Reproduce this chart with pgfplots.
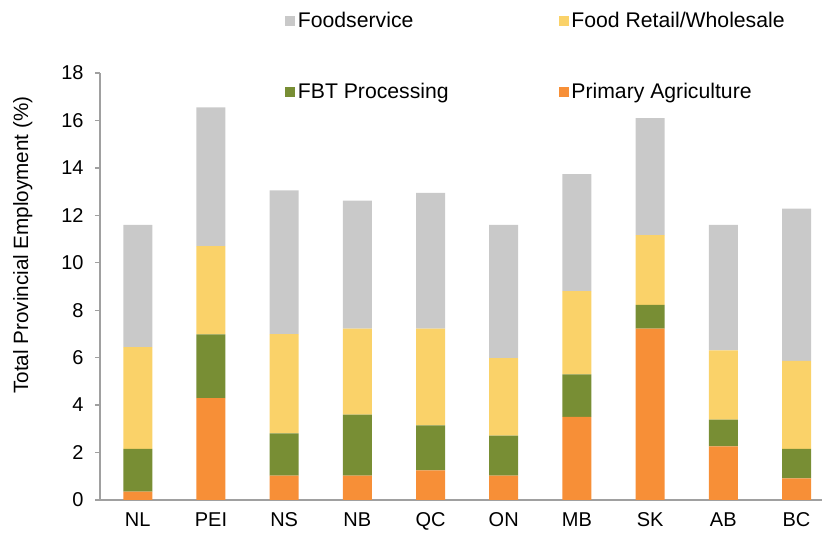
\documentclass[border=0pt]{standalone}
\usepackage{pgfplots}
\pgfplotsset{compat=1.18}
\usepackage{pgfplotstable}
\usepackage{fontspec}
\setmainfont{Liberation Sans}
\definecolor{cFS}{RGB}{201,201,201}
\definecolor{cFR}{RGB}{250,210,105}
\definecolor{cFBT}{RGB}{120,142,52}
\definecolor{cPA}{RGB}{247,143,55}
\definecolor{axgray}{RGB}{160,160,160}
\pgfplotstableread{
x PA FBT FR FS
0 0.35 1.80 4.29 5.16
1 4.29 2.69 3.72 5.85
2 1.03 1.78 4.18 6.06
3 1.03 2.57 3.62 5.40
4 1.25 1.90 4.07 5.73
5 1.03 1.68 3.27 5.62
6 3.50 1.80 3.50 4.94
7 7.22 1.01 2.94 4.93
8 2.26 1.13 2.92 5.29
9 0.91 1.24 3.71 6.42
}\datatable
\begin{document}
\begin{tikzpicture}
\begin{axis}[
 scale only axis, width=541.5pt, height=320.25pt,
 xmin=-0.516, xmax=9.348, ymin=0, ymax=18,
 ybar stacked, bar width=21.75pt,
 axis x line=bottom, axis y line=left,
 axis line style={-, axgray, line width=1.2pt},
 xtick={0,...,9}, xticklabels={NL,PEI,NS,NB,QC,ON,MB,SK,AB,BC},
 x tick style={draw=none},
 ytick={0,2,...,18},
 y tick style={axgray, line width=1pt},
 tick align=outside, major tick length=3.75pt,
 ticklabel style={font=\fontsize{15}{18}\selectfont},
 yticklabel style={xshift=-5pt},
 xticklabel style={yshift=-2pt},
 /pgf/number format/assume math mode=true,
 ylabel={Total Provincial Employment (\%)},
 every axis y label/.style={at={(axis description cs:0,0.597)}, xshift=-58pt, rotate=90, anchor=center, font=\fontsize{15.5}{18}\selectfont},
 legend columns=2, reverse legend,
 legend style={draw=none, fill=none, font=\fontsize{15.9}{18}\selectfont, at={(axis description cs:0,1)}, anchor=north west, xshift=138.75pt, yshift=45.75pt, inner sep=0pt, row sep=40.5pt, nodes={inner xsep=2pt, inner ysep=0pt}, /tikz/every even column/.append style={column sep=80.5pt}},
 legend cell align=left,
 legend image code/.code={\fill[#1] (0pt,-3.75pt) rectangle (7.5pt,3.75pt);},
]
\addplot[fill=cPA, draw=none] table[x=x, y=PA] {\datatable};
\addlegendentry{Primary Agriculture}
\addplot[fill=cFBT, draw=none] table[x=x, y=FBT] {\datatable};
\addlegendentry{FBT Processing}
\addplot[fill=cFR, draw=none] table[x=x, y=FR] {\datatable};
\addlegendentry{Food Retail/Wholesale}
\addplot[fill=cFS, draw=none] table[x=x, y=FS] {\datatable};
\addlegendentry{Foodservice}
\end{axis}
\pgfresetboundingbox
\path[use as bounding box] ([xshift=-75pt,yshift=-26.25pt]current axis.south west) rectangle ([yshift=54.75pt]current axis.north east);
\end{tikzpicture}
\end{document}
